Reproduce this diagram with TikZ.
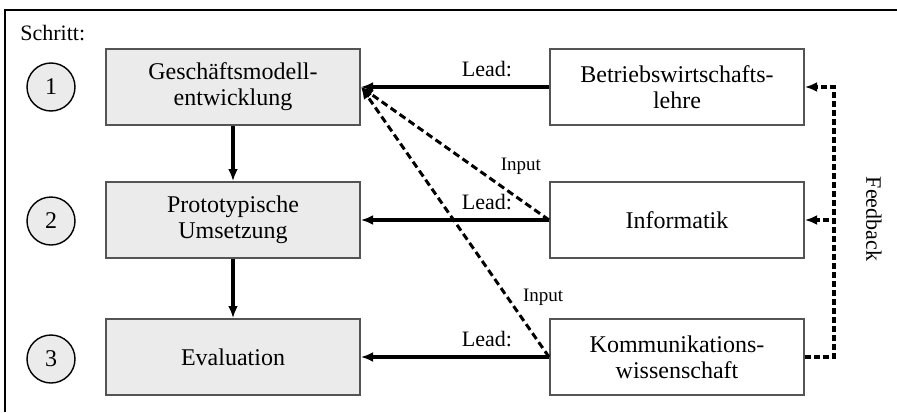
\documentclass[tikz,border=0pt]{standalone}
\usepackage{fontspec}
\setmainfont{Liberation Serif}
\usepackage{tikz}
\usetikzlibrary{arrows.meta, calc, positioning}
\usepackage{xcolor}
\definecolor{BoxGray}{gray}{0.92}
\definecolor{EdgeGray}{gray}{0.33}
\definecolor{RichBlack}{gray}{0.0}
\tikzset{%
  phase_block/.style={%
    rectangle,%
    minimum width=127pt,%
    minimum height=38pt,%
    draw=EdgeGray,%
    fill=BoxGray,%
    line width=1pt,%
    font={\fontsize{12}{13}\selectfont},%
    align=center%
  },
  field_block/.style={%
    phase_block,%
    fill=white%
  },
  step_circle/.style={%
    circle,%
    minimum size=24pt,%
    inner sep=0pt,%
    draw=RichBlack,%
    fill=BoxGray,%
    line width=0.7pt,%
    font={\fontsize{12}{13}\selectfont}%
  },
  lead_path/.style={%
    color=RichBlack,%
    line join=round,%
    line width=1.7pt%
  },
  input_path/.style={%
    color=RichBlack,%
    dash pattern=on 3.5pt off 2pt,%
    line width=1.5pt%
  },
  feedback_path/.style={%
    color=RichBlack,%
    dash pattern=on 3pt off 1.5pt,%
    line width=1.6pt%
  },
  annotate/.style={%
    font={\fontsize{11}{12}\selectfont},%
    inner sep=1pt%
  },
  small_annotate/.style={%
    font={\fontsize{9.5}{10}\selectfont},%
    inner sep=1pt%
  },
  arrow/.style={-{Latex[length=6pt, width=5pt]}},
}
\begin{document}
\begin{tikzpicture}[x=0.5pt, y=-0.5pt]
    \useasboundingbox (0,0) rectangle (897,412);

    % frame
    \draw [line width=1.1pt] (897,10) -- (5,10) -- (5,412);
    \node [annotate, anchor=west] (schritt) at (18,33) {Schritt:};

    \node [step_circle] (step1) at (51,87) {1};
    \node [step_circle] (step2) at (51,221) {2};
    \node [step_circle] (step3) at (51,359) {3};

    \node [phase_block] (GMEntw) at (233,87) {Geschäftsmodell-\\entwicklung};
    \node [phase_block] (ProtoUms) at (233,220) {Prototypische\\Umsetzung};
    \node [phase_block] (Eval) at (233,357) {Evaluation};

    \node [field_block] (BWL) at (677,87) {Betriebswirtschafts-\\lehre};
    \node [field_block] (Inf) at (677,220) {Informatik};
    \node [field_block] (KoWi) at (677,357) {Kommunikations-\\wissenschaft};

    \node [annotate, rotate=-90] (feedback) at (874,219) {Feedback};

    \draw [arrow, lead_path] (GMEntw.south) -- (ProtoUms.north);
    \draw [arrow, lead_path] (ProtoUms.south) -- (Eval.north);

    \draw [arrow, lead_path]
      (BWL.west)
      --
      node [annotate, pos=0.33, above=3pt] {Lead:}
      (GMEntw.east);
    \draw [arrow, lead_path]
      (Inf.west)
      --
      node [annotate, pos=0.33, above=3pt] {Lead:}
      (ProtoUms.east);
    \draw [arrow, lead_path]
      (KoWi.west)
      --
      node [annotate, pos=0.33, above=3pt] {Lead:}
      (Eval.east);

    \draw [arrow, input_path]
      (Inf.west)
      --
      node [small_annotate, pos=0.15, above=11pt] {Input}
      (GMEntw.east);
    \draw [arrow, input_path]
      (KoWi.west)
      --
      node [small_annotate, pos=0.22, right=6pt] {Input}
      (GMEntw.east);

    \draw [arrow, feedback_path]
      (KoWi.east)
      --
      ++(29,0)
      |-
      (BWL.east);
    \draw [arrow, feedback_path]
      (KoWi.east)
      --
      ++(29,0)
      |-
      (Inf.east);
  \end{tikzpicture}
\end{document}
